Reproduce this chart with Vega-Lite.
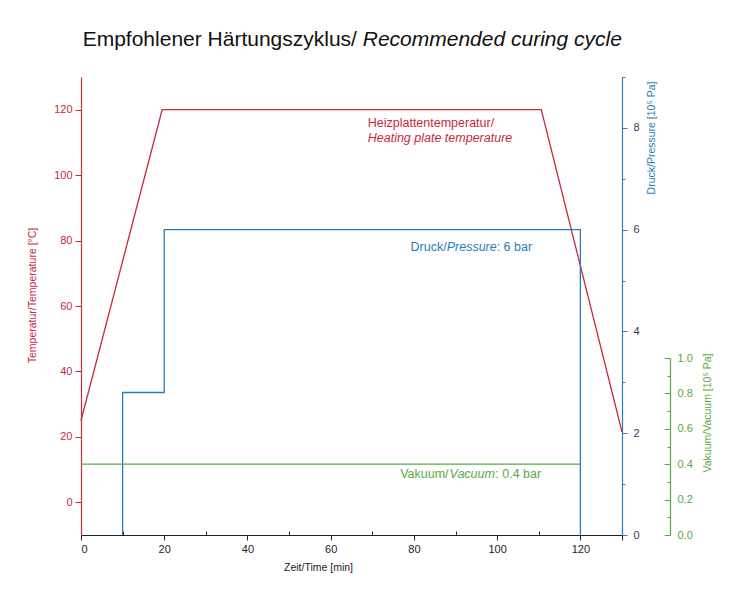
{
  "$schema": "https://vega.github.io/schema/vega-lite/v6.json",
  "width": 541,
  "height": 458,
  "autosize": {"type": "none"},
  "padding": {"left": 81, "top": 77, "right": 113, "bottom": 65},
  "config": {
    "view": {"stroke": null},
    "font": "Liberation Sans",
    "axis": {"grid": false, "labelFont": "Liberation Sans", "titleFont": "Liberation Sans", "titleFontWeight": "normal", "labelFontSize": 11, "titleFontSize": 10.5, "domainWidth": 1.2, "tickWidth": 1}
  },
  "datasets": {
    "temperature": [{"time": 0, "temp": 25}, {"time": 19.5, "temp": 120}, {"time": 110.6, "temp": 120}, {"time": 130, "temp": 21.5}],
    "pressure": [{"time": 10, "bar": 0}, {"time": 10, "bar": 2.8}, {"time": 20, "bar": 2.8}, {"time": 20, "bar": 6}, {"time": 120, "bar": 6}, {"time": 120, "bar": 0}],
    "vacuum": [{"time": 0, "bar": 0.4}, {"time": 120, "bar": 0.4}],
    "labels": [
      {"time": 68.9, "temp": 114.8, "text": "Heizplattentemperatur/", "style": "normal", "series": "temp"},
      {"time": 68.9, "temp": 110.1, "text": "Heating plate temperature", "style": "italic", "series": "temp"},
      {"time": 79.2, "temp": 76.8, "text": "Druck/", "style": "normal", "series": "pressure"},
      {"time": 87.87, "temp": 76.8, "text": "Pressure", "style": "italic", "series": "pressure"},
      {"time": 99.88, "temp": 76.8, "text": ": 6 bar", "style": "normal", "series": "pressure"},
      {"time": 76.7, "temp": 7.4, "text": "Vakuum/", "style": "normal", "series": "vacuum"},
      {"time": 88.55, "temp": 7.4, "text": "Vacuum", "style": "italic", "series": "vacuum"},
      {"time": 99.56, "temp": 7.4, "text": ": 0.4 bar", "style": "normal", "series": "vacuum"}
    ],
    "titles": [
      {"time": 0.4, "temp": 139.4, "text": "Empfohlener Härtungszyklus/", "style": "normal"},
      {"time": 67.7, "temp": 139.4, "text": "Recommended curing cycle", "style": "italic"}
    ]
  },
  "encoding": {
    "x": {
      "field": "time", "type": "quantitative",
      "scale": {"domain": [0, 130], "nice": false, "zero": false},
      "axis": {
        "values": [0, 10, 20, 30, 40, 50, 60, 70, 80, 90, 100, 110, 120, 130],
        "labelExpr": "datum.value % 20 === 0 && datum.value <= 120 ? datum.label : ''",
        "tickSize": {"condition": {"test": "datum.value % 20 === 0 || datum.value === 130", "value": 5}, "value": -4},
        "labelPadding": 3,
        "domainColor": "#222222", "tickColor": "#222222", "labelColor": "#222222",
        "title": "Zeit/Time [min]", "titleColor": "#222222",
        "titleX": 237, "titleY": 32, "titleBaseline": "middle", "titleAlign": "center"
      }
    }
  },
  "layer": [
    {
      "layer": [
        {
          "data": {"name": "temperature"},
          "mark": {"type": "line", "color": "#c9283d", "strokeWidth": 1.3},
          "encoding": {
            "y": {
              "field": "temp", "type": "quantitative",
              "scale": {"domain": [-10, 130], "nice": false, "zero": false},
              "axis": {
                "orient": "left",
                "values": [0, 10, 20, 30, 40, 50, 60, 70, 80, 90, 100, 110, 120, 130],
                "labelExpr": "datum.value % 20 === 0 && datum.value <= 120 ? datum.label : ''",
                "tickSize": {"condition": {"test": "datum.value % 20 === 0 && datum.value <= 120", "value": 6}, "value": 3},
                "labelPadding": 3,
                "domainColor": "#c9283d", "tickColor": "#c9283d", "labelColor": "#c9283d",
                "title": "Temperatur/Temperature [°C]", "titleColor": "#c9283d",
                "titleAngle": 270, "titleX": -49, "titleY": 218, "titleBaseline": "middle", "titleAlign": "center"
              }
            }
          }
        },
        {
          "data": {"name": "labels"},
          "transform": [{"filter": "datum.style === 'normal'"}],
          "mark": {"type": "text", "align": "left", "baseline": "alphabetic", "fontSize": 12.5, "font": "Liberation Sans"},
          "encoding": {
            "y": {"field": "temp", "type": "quantitative"},
            "text": {"field": "text"},
            "color": {"field": "series", "type": "nominal", "scale": {"domain": ["temp", "pressure", "vacuum"], "range": ["#c9283d", "#2b7bb9", "#5aa845"]}, "legend": null}
          }
        },
        {
          "data": {"name": "labels"},
          "transform": [{"filter": "datum.style === 'italic'"}],
          "mark": {"type": "text", "align": "left", "baseline": "alphabetic", "fontSize": 12.5, "fontStyle": "italic", "font": "Liberation Sans"},
          "encoding": {
            "y": {"field": "temp", "type": "quantitative"},
            "text": {"field": "text"},
            "color": {"field": "series", "type": "nominal", "scale": {"domain": ["temp", "pressure", "vacuum"], "range": ["#c9283d", "#2b7bb9", "#5aa845"]}, "legend": null}
          }
        },
        {
          "data": {"name": "titles"},
          "transform": [{"filter": "datum.style === 'normal'"}],
          "mark": {"type": "text", "align": "left", "baseline": "alphabetic", "fontSize": 21, "font": "Liberation Sans", "color": "#111111"},
          "encoding": {
            "y": {"field": "temp", "type": "quantitative"},
            "text": {"field": "text"}
          }
        },
        {
          "data": {"name": "titles"},
          "transform": [{"filter": "datum.style === 'italic'"}],
          "mark": {"type": "text", "align": "left", "baseline": "alphabetic", "fontSize": 21, "fontStyle": "italic", "font": "Liberation Sans", "color": "#111111"},
          "encoding": {
            "y": {"field": "temp", "type": "quantitative"},
            "text": {"field": "text"}
          }
        }
      ]
    },
    {
      "data": {"name": "pressure"},
      "mark": {"type": "line", "color": "#2b7bb9", "strokeWidth": 1.3},
      "encoding": {
        "order": {"value": null},
        "y": {
          "field": "bar", "type": "quantitative",
          "scale": {"domain": [0, 9], "nice": false, "zero": false},
          "axis": {
            "orient": "right",
            "values": [0, 1, 2, 3, 4, 5, 6, 7, 8, 9],
            "labelExpr": "datum.value % 2 === 0 && datum.value <= 8 ? datum.label : ''",
            "tickSize": {"condition": {"test": "datum.value % 2 === 0 && datum.value <= 8", "value": 5}, "value": 3},
            "labelPadding": 6,
            "domainColor": "#2b7bb9", "tickColor": "#2b7bb9", "labelColor": "#3a3a55",
            "title": "Druck/Pressure [10⁵ Pa]", "titleColor": "#2b7bb9",
            "titleAngle": 270, "titleAlign": "right", "titleBaseline": "middle", "titleX": 29, "titleY": 4
          }
        }
      }
    },
    {
      "data": {"name": "vacuum"},
      "mark": {"type": "line", "color": "#5aa845", "strokeWidth": 1.3},
      "encoding": {
        "y": {
          "field": "bar", "type": "quantitative",
          "scale": {"domain": [0, 1], "range": [458, 281], "nice": false, "zero": false},
          "axis": {
            "orient": "right",
            "offset": 48,
            "values": [0, 0.1, 0.2, 0.3, 0.4, 0.5, 0.6, 0.7, 0.8, 0.9, 1.0],
            "format": ".1f",
            "labelExpr": "round(datum.value * 10) % 2 === 0 ? datum.label : ''",
            "tickSize": {"condition": {"test": "round(datum.value * 10) % 2 === 0", "value": -6}, "value": -3},
            "labelPadding": 13,
            "domainColor": "#5aa845", "tickColor": "#5aa845", "labelColor": "#5aa845",
            "title": "Vakuum/Vacuum [10⁵ Pa]", "titleColor": "#5aa845",
            "titleAngle": 270, "titleAlign": "right", "titleBaseline": "middle", "titleX": 37, "titleY": 276
          }
        }
      }
    }
  ],
  "resolve": {"scale": {"y": "independent"}, "axis": {"y": "independent"}}
}
